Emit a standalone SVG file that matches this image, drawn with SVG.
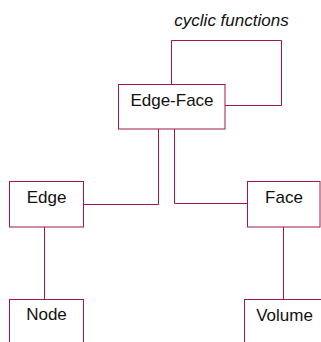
<svg xmlns="http://www.w3.org/2000/svg" width="321" height="342" viewBox="0 0 321 342">
<style>
.box{fill:#fff;stroke:#A0164A;stroke-width:1}
.ln{fill:none;stroke:#A0164A;stroke-width:1}
.t{font-family:"Liberation Sans",Arial,sans-serif;font-size:17px;fill:#111;text-anchor:middle}
.lbl{font-family:"Liberation Sans",Arial,sans-serif;font-size:17px;font-style:italic;fill:#111;text-anchor:middle}
</style>
<rect width="321" height="342" fill="#fff"/>
<g id="connectors">
<path class="ln" d="M171.5,84.5 V40.5 H281.5 V105.5 H225"/>
<path class="ln" d="M158.5,129 V204.5 H83.5"/>
<path class="ln" d="M174.5,129 V203.5 H247.5"/>
<path class="ln" d="M44.5,227 V299"/>
<path class="ln" d="M283.5,227 V299"/>
<text class="lbl" x="231.5" y="25.5">cyclic functions</text>
</g>
<g id="edgeface">
<rect class="box" x="118.5" y="84.5" width="106.5" height="44.5"/>
<text class="t" x="172" y="105.5">Edge-Face</text>
</g>
<g id="edge">
<rect class="box" x="9.5" y="181.5" width="74" height="45.5"/>
<text class="t" x="46.5" y="203">Edge</text>
</g>
<g id="face">
<rect class="box" x="247.5" y="181.5" width="72.5" height="45.5"/>
<text class="t" x="284" y="203">Face</text>
</g>
<g id="node">
<rect class="box" x="9.5" y="299.5" width="74" height="50"/>
<text class="t" x="46.5" y="320">Node</text>
</g>
<g id="volume">
<rect class="box" x="244.5" y="299.5" width="80" height="50"/>
<text class="t" x="284.5" y="320.5">Volume</text>
</g>
</svg>
